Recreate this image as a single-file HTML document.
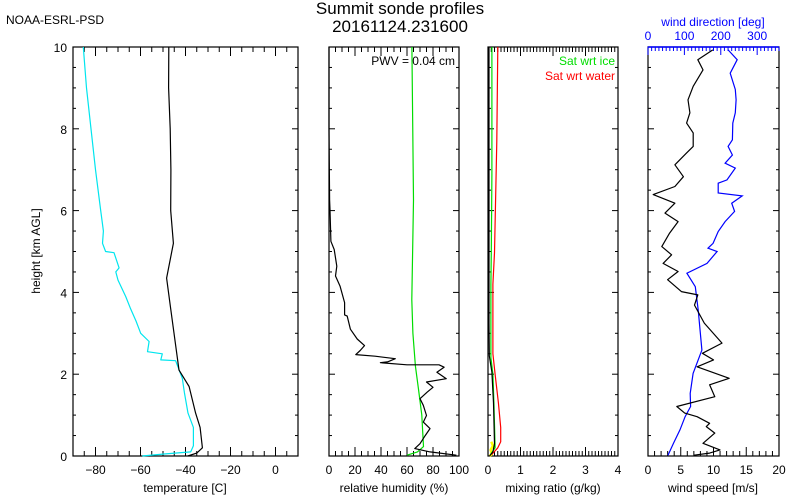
<!DOCTYPE html>
<html><head><meta charset="utf-8">
<style>
html,body{margin:0;padding:0;background:#fff;}
svg{display:block;font-family:"Liberation Sans",sans-serif;}
text{font-size:12px;fill:#000;}
</style></head>
<body>
<svg id="chart" width="800" height="500" viewBox="0 0 800 500" xmlns="http://www.w3.org/2000/svg">
<text x="6" y="24" style="font-size:12px">NOAA-ESRL-PSD</text>
<text x="400" y="14" text-anchor="middle" style="font-size:17px">Summit sonde profiles</text>
<text x="400" y="32" text-anchor="middle" style="font-size:17px">20161124.231600</text>
<text transform="translate(40,251) rotate(-90)" text-anchor="middle" style="font-size:12px">height [km AGL]</text>
</svg>
<script>
// ---- data (heights in km) ----
const tempH = [10,9,8,7,6,5.2,4.35,3.6,2.1,1.7,1.05,0.7,0.2,0.07,0];
const tempV = [-47.4,-47.5,-46.8,-46.5,-46.6,-45.4,-48.4,-46.6,-42.9,-38.4,-35.5,-33.5,-32.5,-35,-39];
const dewH = [10,9,8,7,6,5.5,5.2,5.0,4.97,4.6,4.5,4.3,3.9,3.6,3.3,3.0,2.8,2.55,2.5,2.35,2.33,1.9,1.55,1.05,0.7,0.25,0.1,0.05,0];
const dewV = [-85.4,-84,-82,-80,-77.7,-76.5,-76.9,-75.5,-71.8,-69.5,-71,-70,-66.6,-64.4,-62,-59.9,-56.2,-56.9,-50.3,-51,-44.4,-41.4,-40.5,-38.9,-36.5,-36.5,-37.7,-49.5,-59.2];
const rhH = [10,8,6.26,6.02,5.25,5.05,4.64,4.4,4.15,3.75,3.45,3.42,3.1,2.86,2.7,2.58,2.48,2.44,2.38,2.3,2.28,2.23,2.23,2.17,2.05,1.89,1.81,1.68,1.56,1.4,1.24,0.99,0.83,0.67,0.5,0.3,0.18,0.1,0.02];
const rhV = [0,0,0.5,0.8,1.5,4,6,5,8.5,12,12,14,16.5,21.7,27.3,24,20.6,35.5,51,45,39.5,60,84.6,88.5,83,90.2,75,80,75.5,70,72.5,75,72.5,77.7,74,70,66,77.7,98];
const rhIceH = [10,6.26,3.82,3.0,2.2,1.65,1.0,0.23,0.1,0.02];
const rhIceV = [63.8,65,63.7,64.5,66.5,68.8,71.4,72.7,68,60];
const mixH = [10,7,3.25,2.45,2.05,1.3,0.3,0.1,0];
const mixV = [0.03,0.03,0.03,0.04,0.12,0.17,0.2,0.15,0.05];
const mixYelH = [0.35,0.25,0.15,0.05,0];
const mixYelV = [0.1,0.15,0.08,0.12,0.05];
const satIceH = [10,6.9,4.97,4.2,2.4,2.0,1.3,0.5,0.2,0.04];
const satIceV = [0.12,0.12,0.1,0.09,0.09,0.15,0.18,0.21,0.22,0.08];
const satWatH = [10,7.7,4.97,4.2,2.5,2.0,1.3,0.7,0.35,0.2,0.04];
const satWatV = [0.3,0.27,0.2,0.15,0.15,0.22,0.32,0.39,0.39,0.3,0.12];
const spdH = [9.93,9.69,9.44,9.04,8.71,8.39,8.14,7.9,7.57,7.41,7.12,6.83,6.59,6.39,6.18,5.94,5.73,5.45,5.12,4.92,4.71,4.51,4.31,4.02,3.94,3.69,3.25,2.76,2.51,2.35,2.18,1.9,1.74,1.45,1.21,1.05,0.96,0.8,0.72,0.56,0.31,0.15,0.07,0.02];
const spdV = [9.9,7.6,8.4,6.9,6.1,6.4,5.9,6.9,6.9,5.9,4.1,5.4,4.1,0.8,4.1,2.6,4.6,3.3,2.1,3.6,2.3,4.6,3.0,5.1,7.6,7.1,8.6,11.3,8.3,10,7.5,12.4,9.4,10.2,4.4,5.6,7.5,9.4,8.9,10.2,8.4,11,9.4,7];
const dirH = [9.93,9.69,9.36,8.96,8.71,8.39,8.14,7.73,7.57,7.36,7.16,7.04,6.75,6.67,6.43,6.36,6.18,5.98,5.73,5.49,5.2,5.08,5.0,4.71,4.47,4.14,3.57,2.59,2.02,1.53,1.21,0.96,0.64,0.31,0.02];
const dirV = [220,245,226,240,242,240,233,232,220,232,212,240,217,193,193,259,230,238,212,193,179,165,190,162,107,130,138,148,124,116,117,102,88,70,55];
const heightTicks = [0,2,4,6,8,10];
const tempTicks = [-80,-60,-40,-20,0];
const rhTicks = [0,20,40,60,80,100];
const mixTicks = [0,1,2,3,4];
const spdTicks = [0,5,10,15,20];
const dirTicks = [0,100,200,300];

const svg = document.getElementById('chart');
const NS = 'http://www.w3.org/2000/svg';
const TOP = 47, BOT = 456;
function yS(h){ return BOT - (h/10)*(BOT-TOP); }
function mk(tag, attrs, parent){
  const e = document.createElementNS(NS, tag);
  for (const k in attrs) e.setAttribute(k, attrs[k]);
  (parent||svg).appendChild(e);
  return e;
}
function panel(name, x0, x1, v0, v1, ticks, minorStep, topAxis){
  const g = mk('g', {});
  
  
  const xs = v => x0 + (v - v0) / (v1 - v0) * (x1 - x0);
  mk('rect', {x:x0, y:TOP, width:x1-x0, height:BOT-TOP, fill:'none', stroke:'#000', 'stroke-width':1.2}, g);
  for (let h = 0; h <= 10.001; h += 0.5){
    const maj = Math.abs(h/2 - Math.round(h/2)) < 1e-6;
    const L = maj ? 6 : 3, y = yS(h);
    mk('line', {x1:x0, x2:x0+L, y1:y, y2:y, stroke:'#000'}, g);
    mk('line', {x1:x1, x2:x1-L, y1:y, y2:y, stroke:'#000'}, g);
  }
  for (let v = v0; v <= v1 + 1e-6; v += minorStep){
    const maj = ticks.some(t => Math.abs(t - v) < 1e-6);
    const L = maj ? 9 : 5, x = xs(v);
    mk('line', {x1:x, x2:x, y1:BOT, y2:BOT-L, stroke:'#000'}, g);
    if (topAxis) mk('line', {x1:x, x2:x, y1:TOP, y2:TOP+L, stroke:'#000'}, g);
  }
  ticks.forEach(t => {
    const tx = mk('text', {x:xs(t), y:BOT+18, 'text-anchor':'middle'}, g);
    
    
    tx.textContent = String(t).replace('-', '\u2212');
  });
  return {g, xs};
}
function series(p, H, V, color, name, width){
  const pts = H.map((h,i) => p.xs(V[i]).toFixed(1) + ',' + yS(h).toFixed(1)).join(' ');
  const pl = mk('polyline', {points:pts, fill:'none', stroke:color, 'stroke-width':width||1.2, 'stroke-linejoin':'round'}, p.g);
  
  
}
function title(x, txt, name){
  const t = mk('text', {x:x, y:BOT+36, 'text-anchor':'middle'});
  
  
  t.textContent = txt;
}

const p1 = panel('temperature', 73, 298, -90, 10, tempTicks, 5, true);
heightTicks.forEach(h => {
  const t = mk('text', {x:67, y:yS(h)+5, 'text-anchor':'end'}, p1.g);
  
  
  t.textContent = h;
});
series(p1, dewH, dewV, '#00e5ee', 'dewpoint-line');
series(p1, tempH, tempV, '#000', 'temperature-line');
title(185, 'temperature [C]', 'temperature-axis-title');

const p2 = panel('humidity', 329, 459, 0, 100, rhTicks, 5, true);
series(p2, rhIceH, rhIceV, '#00dd00', 'rh-ice-line');
series(p2, rhH, rhV, '#000', 'rh-line');
const pwv = mk('text', {x:455, y:65, 'text-anchor':'end'}, p2.g);


pwv.textContent = 'PWV = 0.04 cm';
title(394, 'relative humidity (%)', 'humidity-axis-title');

const p3 = panel('mixing-ratio', 488, 618, 0, 4, mixTicks, 0.1, true);
series(p3, mixYelH, mixYelV, '#ffff00', 'mixing-aux-line', 2.5);
series(p3, satWatH, satWatV, '#ff0000', 'sat-water-line');
series(p3, satIceH, satIceV, '#00dd00', 'sat-ice-line');
series(p3, mixH, mixV, '#000', 'mixing-ratio-line');
const l1 = mk('text', {x:615, y:65, 'text-anchor':'end', style:'fill:#00dd00'}, p3.g);


l1.textContent = 'Sat wrt ice';
const l2 = mk('text', {x:615, y:80, 'text-anchor':'end', style:'fill:#ff0000'}, p3.g);


l2.textContent = 'Sat wrt water';
title(553, 'mixing ratio (g/kg)', 'mixing-axis-title');

const p4 = panel('wind', 648, 779, 0, 20, spdTicks, 1, false);
const dxs = v => 648 + v/360*(779-648);
mk('line', {x1:648, x2:779, y1:TOP, y2:TOP, stroke:'#0000ff', 'stroke-width':1.5}, p4.g);
for (let d = 0; d <= 360; d += 10){
  const L = (d % 100 === 0) ? 8 : 4;
  mk('line', {x1:dxs(d), x2:dxs(d), y1:TOP, y2:TOP+L, stroke:'#0000ff'}, p4.g);
}
dirTicks.forEach(d => {
  const t = mk('text', {x:dxs(d), y:40, 'text-anchor':'middle', style:'fill:#0000ff'}, p4.g);
  
  
  t.textContent = d;
});
const dt = mk('text', {x:713, y:26, 'text-anchor':'middle', style:'fill:#0000ff'}, p4.g);


dt.textContent = 'wind direction [deg]';
const dirPts = dirH.map((h,i) => dxs(dirV[i]).toFixed(1) + ',' + yS(h).toFixed(1)).join(' ');
const dl = mk('polyline', {points:dirPts, fill:'none', stroke:'#0000ff', 'stroke-width':1.2}, p4.g);


series(p4, spdH, spdV, '#000', 'wind-speed-line');
title(713, 'wind speed [m/s]', 'wind-speed-axis-title');
</script>
</body></html>
